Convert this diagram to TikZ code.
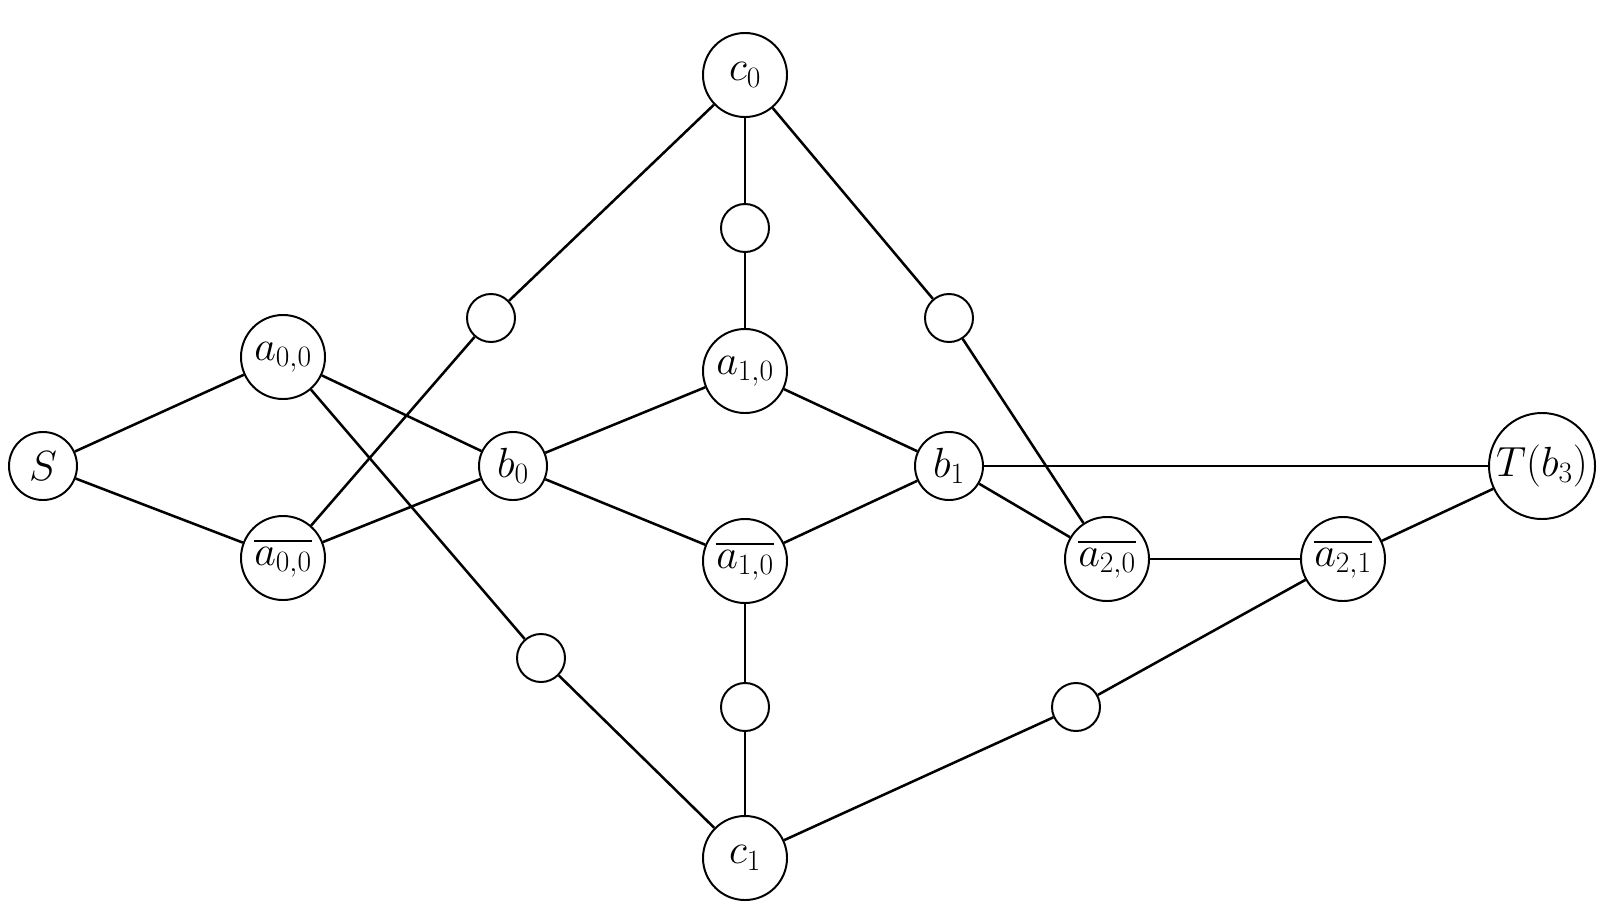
\RequirePackage{fix-cm}
\documentclass[tikz,border=0pt]{standalone}
\usepackage{amsmath,amssymb}
\usepackage{tikz}
\usetikzlibrary{positioning}

\begin{document}
\begin{tikzpicture}[x=0.025cm, y=-0.025cm,
    vertex/.style={draw, circle, line width=1.4pt, inner sep=0pt, minimum size=2.1cm, font=\fontsize{30}{36}\selectfont},
    dummy/.style={draw, circle, line width=1.4pt, inner sep=0pt, minimum size=1.2cm},
    wire/.style={line width=1.8pt}]
    \useasboundingbox (0,0) rectangle (1608,921);

    % Start and first variable
    \node[vertex, minimum size=1.7cm] (S) at (43,466) {$S$};
    \node[vertex] (a00) at (283,357) {$a_{0,0}$};
    \node[vertex] (a00n) at (283,558) {$\overline{a_{0,0}}$};
    \node[vertex, minimum size=1.7cm] (b0) at (513,466) {$b_0$};

    % Second variable
    \node[vertex] (a10) at (745,371) {$a_{1,0}$};
    \node[vertex] (a10n) at (745,561) {$\overline{a_{1,0}}$};
    \node[vertex, minimum size=1.7cm] (b1) at (949,466) {$b_1$};

    % Third variable and target
    \node[vertex] (a20n) at (1107,559) {$\overline{a_{2,0}}$};
    \node[vertex] (a21n) at (1343,559) {$\overline{a_{2,1}}$};
    \node[vertex, minimum size=2.65cm, inner sep=-6pt] (T) at (1542,466) {$T(b_3)$};

    % Clauses
    \node[vertex] (c0) at (745,75) {$c_0$};
    \node[vertex] (c1) at (745,858) {$c_1$};

    % Small circles on the clause paths
    \node[dummy] (d1) at (491,318) {};
    \node[dummy] (d0) at (745,228) {};
    \node[dummy] (d4) at (949,318) {};
    \node[dummy] (d2) at (541,658) {};
    \node[dummy] (d3) at (745,707) {};
    \node[dummy] (d5) at (1076,707) {};

    % Chain
    \draw[wire] (S) -- (a00);
    \draw[wire] (S) -- (a00n);
    \draw[wire] (a00) -- (b0);
    \draw[wire] (a00n) -- (b0);
    \draw[wire] (b0) -- (a10);
    \draw[wire] (b0) -- (a10n);
    \draw[wire] (a10) -- (b1);
    \draw[wire] (a10n) -- (b1);
    \draw[wire] (b1) -- (T);
    \draw[wire] (b1) -- (a20n);
    \draw[wire] (a20n) -- (a21n);
    \draw[wire] (a21n) -- (T);

    % Clause c0
    \draw[wire] (c0) -- (d1) -- (a00n);
    \draw[wire] (c0) -- (d0) -- (a10);
    \draw[wire] (c0) -- (d4) -- (a20n);

    % Clause c1
    \draw[wire] (c1) -- (d2) -- (a00);
    \draw[wire] (c1) -- (d3) -- (a10n);
    \draw[wire] (c1) -- (d5) -- (a21n);
\end{tikzpicture}
\end{document}
